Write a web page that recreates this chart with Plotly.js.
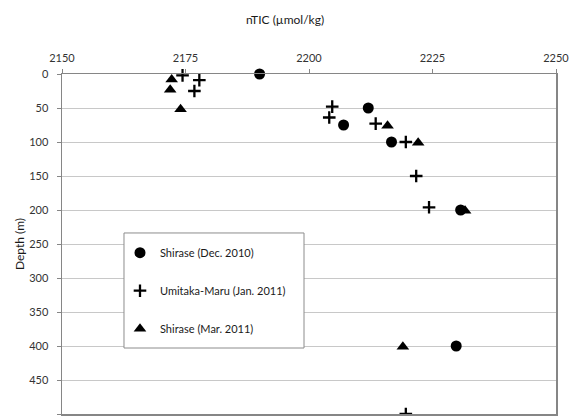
<!DOCTYPE html>
<html>
<head>
<meta charset="utf-8">
<script src="https://cdn.plot.ly/plotly-3.0.1.min.js"></script>
<style>html,body{margin:0;padding:0;background:#fff;}#chart{width:575px;height:416px;}</style>
</head>
<body>
<div id="chart"></div>
<script>
// Shirase (Dec. 2010)
var decNTIC  = [2190, 2212, 2207, 2216.7, 2230.7, 2229.8];
var decDepth = [0, 50, 75, 100, 200, 400];
// Umitaka-Maru (Jan. 2011)
var janNTIC  = [2174.4, 2177.8, 2176.8, 2204.7, 2204.1, 2213.5, 2219.6, 2221.7, 2224.3, 2219.6];
var janDepth = [2, 9, 25, 48, 64, 73, 100, 150, 196, 500];
// Shirase (Mar. 2011)
var marNTIC  = [2172.2, 2171.9, 2174.0, 2215.9, 2222.1, 2231.6, 2219];
var marDepth = [8, 23, 52, 76, 101, 201, 401];

var seriesNames = ['Shirase (Dec. 2010)', 'Umitaka-Maru (Jan. 2011)', 'Shirase (Mar. 2011)'];
var xTicks = [2150, 2175, 2200, 2225, 2250];
var yTicks = [0, 50, 100, 150, 200, 250, 300, 350, 400, 450, 500];

var FONT = 'Lato, "Open Sans", sans-serif';

var traces = [
  {x: decNTIC, y: decDepth, name: seriesNames[0], legendgroup: 'a', type: 'scatter', mode: 'markers', cliponaxis: false,
   marker: {symbol: 'circle', size: 11, color: '#000', line: {width: 0}}},
  {x: janNTIC, y: janDepth, name: seriesNames[1], legendgroup: 'b', type: 'scatter', mode: 'markers', cliponaxis: false,
   marker: {symbol: 'cross-thin', size: 9, color: '#000', line: {width: 2.3, color: '#000'}}},
  {x: marNTIC, y: marDepth, name: seriesNames[2], legendgroup: 'c', type: 'scatter', mode: 'markers', cliponaxis: false,
   marker: {symbol: 'triangle-up', size: 11, color: '#000', line: {width: 0}}}
];

var layout = {
  width: 575, height: 416,
  margin: {l: 62, r: 19, t: 74, b: 2, pad: 0},
  paper_bgcolor: '#fff', plot_bgcolor: '#fff',
  font: {family: FONT, size: 11, color: '#333'},
  title: {text: 'nTIC (µmol/kg)', font: {family: FONT, size: 12, color: '#1a1a1a'},
          x: 285/575, xref: 'container', xanchor: 'center', y: 1 - 20/416, yref: 'container', yanchor: 'middle'},
  showlegend: true,
  legend: {x: 0.1174, y: 0.517, xanchor: 'left', yanchor: 'top', bgcolor: 'rgba(0,0,0,0)', borderwidth: 0,
           font: {family: FONT, size: 11, color: '#1a1a1a'}, traceorder: 'grouped', tracegroupgap: 19},
  xaxis: {side: 'top', range: [2150, 2250], tickvals: xTicks, ticks: 'outside', ticklen: 4, tickcolor: '#868686',
          tickfont: {family: FONT, size: 11, color: '#333'},
          showgrid: false, zeroline: false, showline: true, linecolor: '#868686', linewidth: 1.5, mirror: true,
          ticklabelstandoff: 2, fixedrange: true},
  yaxis: {range: [500, 0], tickvals: yTicks, ticks: 'outside', ticklen: 4, tickcolor: '#868686',
          tickfont: {family: FONT, size: 11, color: '#333'},
          showgrid: true, gridcolor: '#c8c8c8', gridwidth: 1, zeroline: false,
          showline: true, linecolor: '#868686', linewidth: 1.5, mirror: true, ticklabelstandoff: 6,
          title: {text: 'Depth (m)', font: {family: FONT, size: 12, color: '#1a1a1a'}}, fixedrange: true},
  shapes: [{type: 'rect', xref: 'paper', yref: 'paper', x0: 0.1255, x1: 0.4899, y0: 0.1941, y1: 0.5324,
            fillcolor: '#fff', line: {color: '#8c8c8c', width: 1}, layer: 'above'}]
};

Plotly.newPlot('chart', traces, layout, {staticPlot: true, displayModeBar: false});
</script>
</body>
</html>
